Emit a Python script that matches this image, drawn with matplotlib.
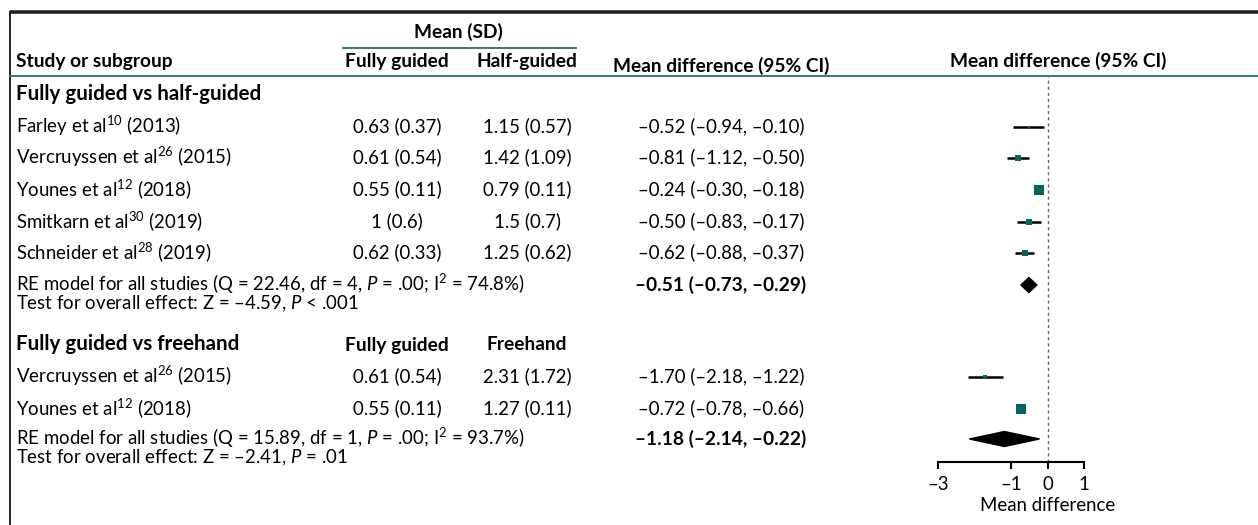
import matplotlib
matplotlib.use("Agg")
import matplotlib.pyplot as plt
from matplotlib.patches import Polygon

plt.rcParams["font.family"] = "Lato"
plt.rcParams["mathtext.fontset"] = "custom"
plt.rcParams["mathtext.rm"] = "Lato"
plt.rcParams["mathtext.it"] = "Lato:italic"
plt.rcParams["mathtext.bf"] = "Lato:bold"

# ---- data -------------------------------------------------------------
studies_1 = ["Farley et al", "Vercruyssen et al", "Younes et al",
             "Smitkarn et al", "Schneider et al"]
refs_1 = ["10", "26", "12", "30", "28"]
years_1 = [2013, 2015, 2018, 2019, 2019]
fully_1 = ["0.63 (0.37)", "0.61 (0.54)", "0.55 (0.11)", "1 (0.6)", "0.62 (0.33)"]
half_1 = ["1.15 (0.57)", "1.42 (1.09)", "0.79 (0.11)", "1.5 (0.7)", "1.25 (0.62)"]
md_1 = [-0.52, -0.81, -0.24, -0.50, -0.62]
lo_1 = [-0.94, -1.12, -0.30, -0.83, -0.88]
hi_1 = [-0.10, -0.50, -0.18, -0.17, -0.37]
weight_1 = [10, 20, 31, 19, 20]
pooled_1 = (-0.51, -0.73, -0.29)
het_1 = ("22.46", "4", ".00", "74.8")
z_1 = ("–4.59", "< .001")

studies_2 = ["Vercruyssen et al", "Younes et al"]
refs_2 = ["26", "12"]
years_2 = [2015, 2018]
fully_2 = ["0.61 (0.54)", "0.55 (0.11)"]
free_2 = ["2.31 (1.72)", "1.27 (0.11)"]
md_2 = [-1.70, -0.72]
lo_2 = [-2.18, -0.78]
hi_2 = [-1.22, -0.66]
weight_2 = [25, 75]
pooled_2 = (-1.18, -2.14, -0.22)
het_2 = ("15.89", "1", ".00", "93.7")
z_2 = ("–2.41", "= .01")

xticks = [-3, -1, 0, 1]

# ---- layout -----------------------------------------------------------
W, H = 1258, 525
TEAL = "#1b7773"
SQ = "#00665f"
FS = 13.4
FSB = 13.8
FSG = 14.8  # subgroup titles

fig = plt.figure(figsize=(W / 100, H / 100), dpi=100)
ax = fig.add_axes([0, 0, 1, 1])
ax.set_xlim(0, W)
ax.set_ylim(H, 0)
ax.axis("off")

# forest panel shares the pixel rows of the table
fx = fig.add_axes([938 / W, 1 - 462 / H, (1084 - 938) / W, (462 - 76) / H])
fx.set_xlim(xticks[0], xticks[-1])
fx.set_ylim(462, 76)
fx.patch.set_alpha(0)

X_STUDY, X_COL1, X_COL2, X_MD = 16, 397, 527, 721


def txt(x, y, s, bold=False, ha="left", size=None):
    if size is None:
        size = FSB if bold else FS
    ax.text(x, y + 5.5, s, ha=ha, va="baseline", fontsize=size,
            fontweight="bold" if bold else "normal")


def fmt_ci(m, l, h):
    return "{:.2f} ({:.2f}, {:.2f})".format(m, l, h).replace("-", "–")


# frame
ax.plot([10, W], [12, 12], color="#222222", lw=2.6, solid_capstyle="butt")
ax.plot([10, 10], [12, H], color="#222222", lw=1.4)

# header
txt(458, 32, "Mean (SD)", bold=True, ha="center")
ax.plot([343, 576], [48, 48], color=TEAL, lw=1.3)
txt(X_STUDY, 62, "Study or subgroup", bold=True)
txt(X_COL1, 62, "Fully guided", bold=True, ha="center")
txt(X_COL2, 62, "Half-guided", bold=True, ha="center")
txt(X_MD, 66, "Mean difference (95% CI)", bold=True, ha="center")
txt(1058, 61, "Mean difference (95% CI)", bold=True, ha="center")
ax.plot([10, W], [76, 76], color=TEAL, lw=1.3)

fx.axvline(0, color="#666666", lw=1.0, ls=(0, (2.2, 2.2)))


def study_rows(rows, names, refs, years, c1, c2, md, lo, hi, weight):
    wmax = max(weight)
    for y, n, r, yr, a, b, m, l, h, w in zip(rows, names, refs, years, c1, c2,
                                           md, lo, hi, weight):
        txt(X_STUDY, y, n + r"$^{\mathregular{" + r + "}}$ (" + str(yr) + ")")
        txt(X_COL1, y, a, ha="center")
        txt(X_COL2, y, b, ha="center")
        txt(X_MD, y, fmt_ci(m, l, h), ha="center")
        fx.plot([l, h], [y, y], color="black", lw=1.8, clip_on=False,
                solid_capstyle="butt")
        fx.plot(m, y, marker="s", ms=6.6 * w / wmax, color=SQ, mec=SQ,
                mew=0, clip_on=False)


def pooled_rows(y, pooled, het, z):
    txt(X_STUDY, y, "RE model for all studies (Q = {}, df = {}, $\\mathit{{P}}$ = {}; "
        "I$^{{\\mathregular{{2}}}}$ = {}%)".format(*het))
    txt(X_MD, y, fmt_ci(*pooled), bold=True, ha="center")
    txt(X_STUDY, y + 18.5, "Test for overall effect: Z = {}, $\\mathit{{P}}$ {}".format(*z))
    m, l, h = pooled
    fx.add_patch(Polygon([(l, y), (m, y - 7.5), (h, y), (m, y + 7.5)],
                         closed=True, color="black", clip_on=False))


# group 1
txt(X_STUDY, 95, "Fully guided vs half-guided", bold=True, size=FSG)
study_rows([127, 158, 190, 222, 253], studies_1, refs_1, years_1, fully_1,
           half_1, md_1, lo_1, hi_1, weight_1)
pooled_rows(285, pooled_1, het_1, z_1)

# group 2
txt(X_STUDY, 345, "Fully guided vs freehand", bold=True, size=FSG)
txt(X_COL1, 345, "Fully guided", bold=True, ha="center")
txt(X_COL2, 345, "Freehand", bold=True, ha="center")
study_rows([377, 409], studies_2, refs_2, years_2, fully_2, free_2,
           md_2, lo_2, hi_2, weight_2)
pooled_rows(439, pooled_2, het_2, z_2)

# forest axis
for s in ["top", "right", "left"]:
    fx.spines[s].set_visible(False)
fx.spines["bottom"].set_linewidth(1.5)
fx.set_yticks([])
fx.set_xticks(xticks)
fx.set_xticklabels([str(t).replace("-", "–") for t in xticks], fontsize=FS)
fx.tick_params(axis="x", length=5, width=1.5, pad=5)
fx.set_xlabel("Mean difference", fontsize=FS, labelpad=1)
fx.xaxis.set_label_coords((0 - xticks[0]) / (xticks[-1] - xticks[0]), -0.09)

fig.savefig("out.png", dpi=100)
